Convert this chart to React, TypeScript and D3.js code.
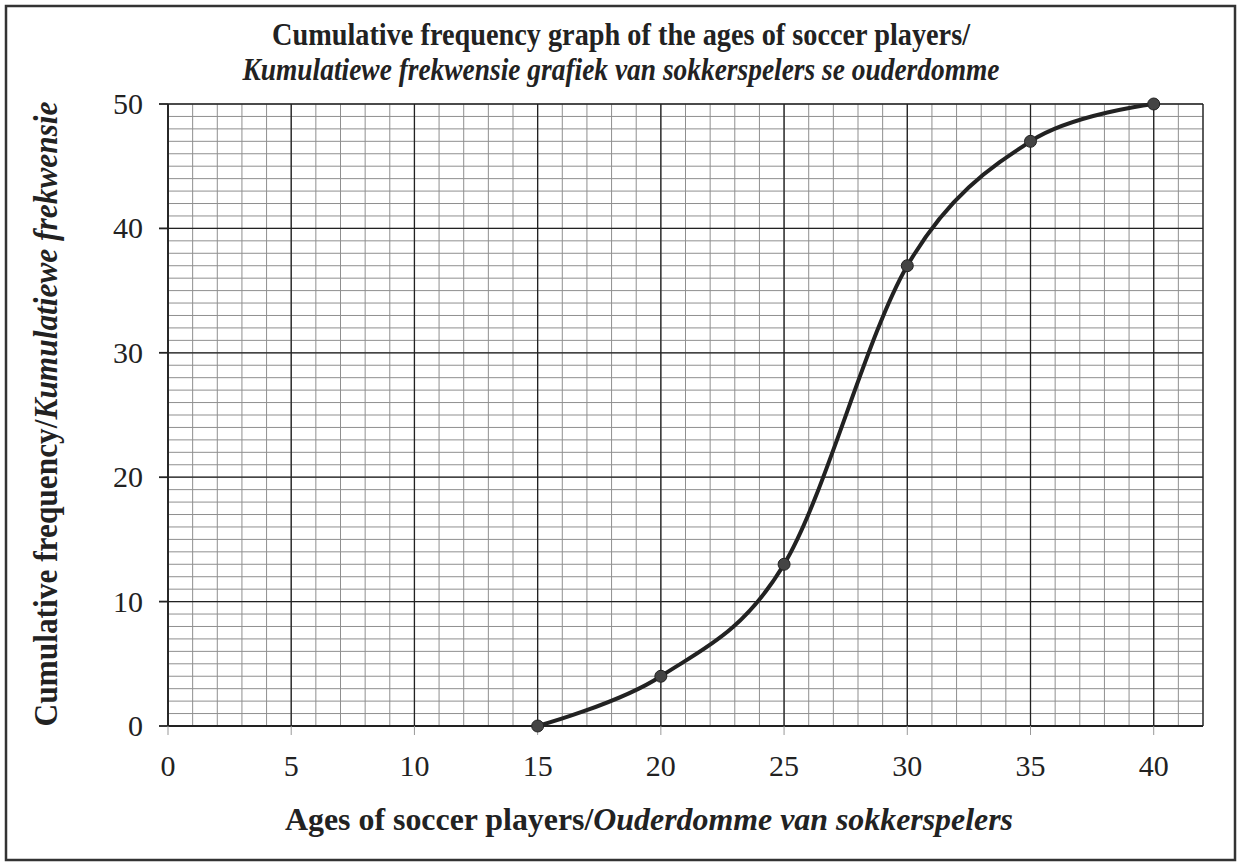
import React from "react";
import * as d3 from "d3";

// data
const ages = [15, 20, 25, 30, 35, 40];
const cumulativeFreq = [0, 4, 13, 37, 47, 50];
const xTickValues = [0, 5, 10, 15, 20, 25, 30, 35, 40];
const yTickValues = [0, 10, 20, 30, 40, 50];

const titleLine1 = "Cumulative frequency graph of the ages of soccer players/";
const titleLine2 = "Kumulatiewe frekwensie grafiek van sokkerspelers se ouderdomme";
const xLabelEn = "Ages of soccer players/";
const xLabelAf = "Ouderdomme van sokkerspelers";
const yLabelEn = "Cumulative frequency/";
const yLabelAf = "Kumulatiewe frekwensie";

const W = 1239;
const H = 864;
const FONT = "Liberation Serif, Tinos, Times New Roman, serif";

const App = () => {
  const x = d3.scaleLinear().domain([0, 42]).range([168, 1203]);
  const y = d3.scaleLinear().domain([0, 50]).range([726, 104]);

  const points = ages.map((a, i) => [a, cumulativeFreq[i]] as [number, number]);
  const line = d3
    .line<[number, number]>()
    .x((d) => x(d[0]))
    .y((d) => y(d[1]))
    .curve(d3.curveCatmullRom.alpha(0));

  const minorX = d3.range(0, 43, 1);
  const minorY = d3.range(0, 51, 1);

  return (
    <svg
      width={W}
      height={H}
      style={{ position: "absolute", left: 0, top: 0, background: "#fff", fontFamily: FONT }}
    >
      <rect x={0} y={0} width={W} height={H} fill="#fff" />
      <rect x={6} y={6} width={1229} height={854} fill="none" stroke="#333" strokeWidth={2.5} />

      {/* title */}
      <text x={621} y={45} textAnchor="middle" fontSize={32} fontWeight="bold" fill="#222"
        textLength={698} lengthAdjust="spacingAndGlyphs">
        {titleLine1}
      </text>
      <text x={621} y={80} textAnchor="middle" fontSize={32} fontWeight="bold" fontStyle="italic"
        fill="#222" textLength={757} lengthAdjust="spacingAndGlyphs">
        {titleLine2}
      </text>

      {/* minor grid */}
      <g stroke="#8f8f8f" strokeWidth={1}>
        {minorX.map((v) => (
          <line key={"mx" + v} x1={x(v)} x2={x(v)} y1={y(0)} y2={y(50)} />
        ))}
        {minorY.map((v) => (
          <line key={"my" + v} x1={x(0)} x2={x(42)} y1={y(v)} y2={y(v)} />
        ))}
      </g>

      {/* major grid */}
      <g stroke="#222" strokeWidth={1.3}>
        {xTickValues.map((v) => (
          <line key={"Mx" + v} x1={x(v)} x2={x(v)} y1={y(0)} y2={y(50)} />
        ))}
        {yTickValues.map((v) => (
          <line key={"My" + v} x1={x(0)} x2={x(42)} y1={y(v)} y2={y(v)} />
        ))}
        <line x1={x(42)} x2={x(42)} y1={y(0)} y2={y(50)} />
      </g>

      {/* axes */}
      <g stroke="#222" strokeWidth={1.8}>
        <line x1={x(0)} x2={x(0)} y1={y(0)} y2={y(50)} />
        <line x1={x(0)} x2={x(42)} y1={y(0)} y2={y(0)} />
        {yTickValues.map((v) => (
          <line key={"yt" + v} x1={x(0) - 9} x2={x(0)} y1={y(v)} y2={y(v)} />
        ))}
      </g>
      <g stroke="#999" strokeWidth={1}>
        {xTickValues.map((v) => (
          <line key={"xt" + v} x1={x(v)} x2={x(v)} y1={y(0)} y2={y(0) + 9} />
        ))}
      </g>

      {/* tick labels */}
      <g fontSize={30} fill="#222">
        {xTickValues.map((v) => (
          <text key={"xl" + v} x={x(v)} y={776} textAnchor="middle">
            {v}
          </text>
        ))}
        {yTickValues.map((v) => (
          <text key={"yl" + v} x={143} y={y(v) + 10} textAnchor="end">
            {v}
          </text>
        ))}
      </g>

      {/* axis titles */}
      <text x={649} y={830} textAnchor="middle" fontSize={31} fontWeight="bold" fill="#222"
        textLength={728} lengthAdjust="spacingAndGlyphs">
        <tspan>{xLabelEn}</tspan>
        <tspan fontStyle="italic">{xLabelAf}</tspan>
      </text>
      <text transform={`translate(57, ${414}) rotate(-90)`} textAnchor="middle" fontSize={33}
        fontWeight="bold" fill="#222" textLength={625} lengthAdjust="spacingAndGlyphs">
        <tspan>{yLabelEn}</tspan>
        <tspan fontStyle="italic">{yLabelAf}</tspan>
      </text>

      {/* curve */}
      <path d={line(points) || ""} fill="none" stroke="#222" strokeWidth={4} />
      {points.map((p, i) => (
        <circle key={"pt" + i} cx={x(p[0])} cy={y(p[1])} r={6} fill="#444" stroke="#222" strokeWidth={1} />
      ))}
    </svg>
  );
};

export default App;
